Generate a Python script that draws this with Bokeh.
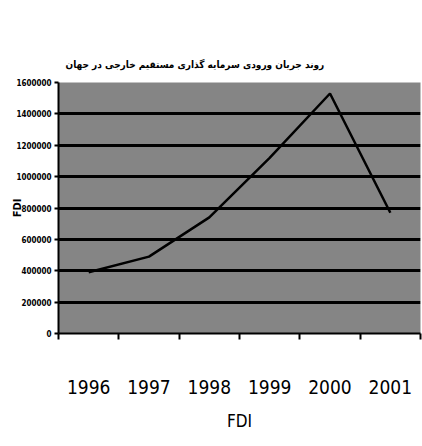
import numpy as np
from bokeh.plotting import figure
from bokeh.models import Range1d, FixedTicker, PrintfTickFormatter
from bokeh.embed import file_html
from bokeh.resources import INLINE

# ---- data ----
years = ["1996", "1997", "1998", "1999", "2000", "2001"]
fdi = [390000, 490000, 740000, 1120000, 1530000, 770000]
y_ticks = [0, 200000, 400000, 600000, 800000, 1000000, 1200000, 1400000, 1600000]
title_text = "روند جریان ورودی سرمایه گذاری مستقیم خارجی در جهان"
x_title = "FDI"
y_title = "FDI"

x = [i + 0.5 for i in range(len(years))]
bounds = list(range(len(years) + 1))

NARROW = "DejaVu Sans Condensed"

p = figure(width=422, height=446, output_backend="svg", toolbar_location=None,
           x_range=Range1d(0, len(years)), y_range=Range1d(0, y_ticks[-1]),
           min_border_left=58, min_border_right=2, min_border_top=82,
           min_border_bottom=113)

p.background_fill_color = "#858585"
p.border_fill_color = "white"
p.outline_line_color = None

# title
p.title.text = title_text
p.title.align = "left"
p.title.offset = 7
p.title.standoff = 25
p.title.text_font = NARROW
p.title.text_font_style = "bold"
p.title.text_font_size = "10px"
p.title.text_color = "black"

# grid
p.xgrid.grid_line_color = None
p.ygrid.grid_line_color = "black"
p.ygrid.grid_line_width = 3
p.ygrid.ticker = FixedTicker(ticks=y_ticks)

# y axis
p.yaxis.ticker = FixedTicker(ticks=y_ticks, minor_ticks=[])
p.yaxis.formatter = PrintfTickFormatter(format="%d")
p.yaxis.major_label_text_font = NARROW
p.yaxis.major_label_text_font_style = "bold"
p.yaxis.major_label_text_font_size = "8px"
p.yaxis.major_label_text_color = "black"
p.yaxis.axis_line_color = "black"
p.yaxis.axis_line_width = 2
p.yaxis.major_tick_in = 0
p.yaxis.major_tick_out = 4
p.yaxis.major_tick_line_width = 2
p.yaxis.major_label_standoff = 3
p.yaxis.axis_label = y_title
p.yaxis.axis_label_text_font = NARROW
p.yaxis.axis_label_text_font_style = "bold"
p.yaxis.axis_label_text_font_size = "11px"
p.yaxis.axis_label_text_color = "black"
p.yaxis.axis_label_standoff = -11

# x axis
p.xaxis.ticker = FixedTicker(ticks=x, minor_ticks=bounds)
p.xaxis.major_label_overrides = {xi: yr for xi, yr in zip(x, years)}
p.xaxis.major_tick_in = 0
p.xaxis.major_tick_out = 0
p.xaxis.minor_tick_in = 0
p.xaxis.minor_tick_out = 6
p.xaxis.minor_tick_line_color = "black"
p.xaxis.minor_tick_line_width = 2
p.xaxis.axis_line_color = "black"
p.xaxis.axis_line_width = 2
p.xaxis.major_label_text_font = NARROW
p.xaxis.major_label_text_font_size = "19px"
p.xaxis.major_label_text_color = "black"
p.xaxis.major_label_standoff = 40
p.xaxis.axis_label = x_title
p.xaxis.axis_label_text_font = NARROW
p.xaxis.axis_label_text_font_style = "normal"
p.xaxis.axis_label_text_font_size = "17px"
p.xaxis.axis_label_text_color = "black"
p.xaxis.axis_label_standoff = 14

# line
p.line(x, fdi, line_color="black", line_width=2.5)

open("out.html", "w").write(file_html(p, INLINE))
